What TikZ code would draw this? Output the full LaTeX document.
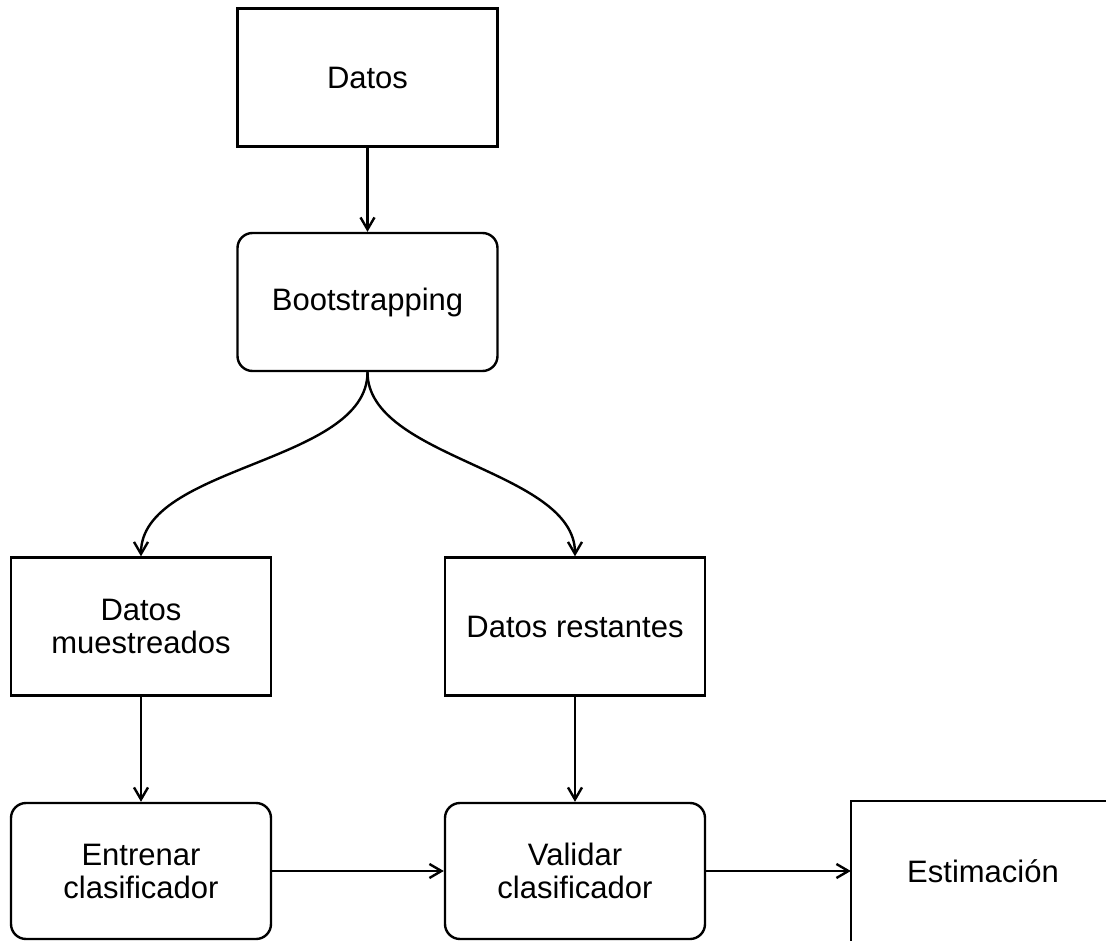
\documentclass[tikz,border=0pt]{standalone}
\usepackage{fontspec}
\setmainfont{Liberation Sans}
\usetikzlibrary{arrows.meta}
\begin{document}
\begin{tikzpicture}[x=1pt,y=-1pt,
  box/.style={draw, line width=2.4pt, minimum width=260pt, minimum height=138pt,
    align=center, inner sep=0pt, font=\fontsize{31}{33}\selectfont},
  rbox/.style={box, rounded corners=15pt},
  link/.style={line width=2.4pt, -{Straight Barb[length=12pt,width=14pt]}}]
\useasboundingbox (0,0) rectangle (1106,941);

% stages of the bootstrap estimate
\node[box]  (datos) at (367.5,77.5) {Datos};
\node[rbox] (boot)  at (367.5,302)  {Bootstrapping};
\node[box]  (muest) at (141,626.5)  {Datos\\muestreados};
\node[box]  (rest)  at (575,626.5)  {Datos restantes};
\node[rbox, minimum height=136pt] (entr) at (141,871) {Entrenar\\clasificador};
\node[rbox, minimum height=136pt] (val)  at (575,871) {Validar\\clasificador};
% last box: only its left and top sides fall on the page
\node[box, draw=none, minimum width=262pt] (est) at (983,871) {Estimación};
\draw[line width=2.4pt] ([yshift=-8pt]est.south west) |- ([xshift=8pt]est.north east);

% connectors
\draw[link] (datos) -- (boot);
\draw[link] (boot.south) to[out=-90,in=90,looseness=0.8] (muest.north);
\draw[link] (boot.south) to[out=-90,in=90,looseness=0.8] (rest.north);
\draw[link] (muest) -- (entr);
\draw[link] (rest) -- (val);
\draw[link] (entr) -- (val);
\draw[link] (val) -- (est);
\end{tikzpicture}
\end{document}
